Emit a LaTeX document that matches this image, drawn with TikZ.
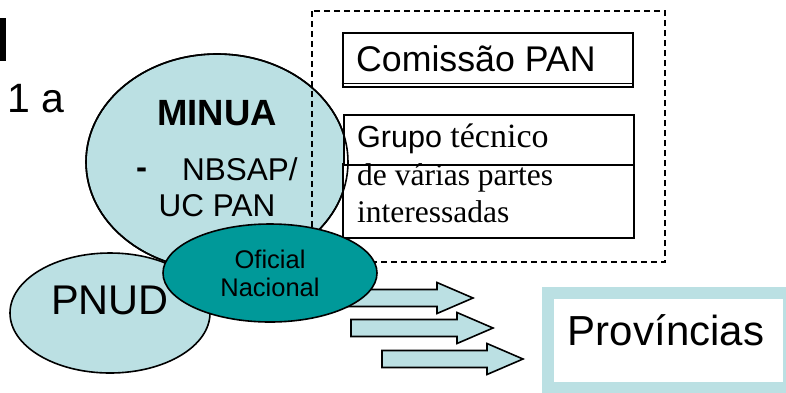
\documentclass[tikz,border=0pt]{standalone}
\usepackage{fontspec}
\setmainfont{Liberation Serif}
\setsansfont{Liberation Sans}
\usetikzlibrary{shapes.geometric}
\definecolor{lcy}{RGB}{187,224,227}
\definecolor{tea}{RGB}{0,153,153}
\tikzset{
    blob/.style={ellipse,draw=black,line width=1.6pt,inner sep=0pt},
    sans/.style={inner sep=0pt,font=\sffamily\fontsize{#1}{#1}\selectfont},
    serif/.style={inner sep=0pt,font=\rmfamily\fontsize{#1}{#1}\selectfont},
    boxa/.style={draw,line width=2.6pt,fill=white,inner sep=0pt},
    boxb/.style={draw,line width=1.6pt,fill=white,inner sep=0pt},
    barr/.style={draw,line width=1.6pt,fill=lcy,line join=miter}
}

\begin{document}
\begin{tikzpicture}[x=1pt,y=-1pt]
    \useasboundingbox (0,0) rectangle (786,392);
    \fill (0,18) rectangle (6,61);
    \node [sans=41,anchor=base west] (onea) at (7,112) {1 a};
    % MINUA and the frame
    \node [blob,fill=lcy,minimum width=262pt,minimum height=216pt] (minua) at (217,162) {};
    \draw [line width=1.3pt,dash pattern=on 6pt off 4pt] (312,11) rectangle (665,262);
    \node [boxa,minimum width=290pt,minimum height=54pt,anchor=north west] (comis) at (341.5,31.5) {};
    \draw [line width=1.2pt] (comis.south west) ++(0,-5) -- ++(290,0);
    \node [boxb,minimum width=291pt,minimum height=74pt,anchor=north west] (partes) at (342,163) {};
    \node [boxa,minimum width=290pt,minimum height=50pt,anchor=north west] (grupo) at (342.5,113.5) {};
    \draw [line width=1.6pt] (minua.center) ellipse (131pt and 108pt);
    \node [sans=35.7,anchor=base west] (comist) at (356,71) {Comissão PAN};
    \node [sans=30.5,anchor=base west] (grupot) at (357,147) {Grupo {\rmfamily\fontsize{34}{34}\selectfont técnico}};
    \node [serif=31.5,anchor=base west] (partest) at (357,185) {de várias partes};
    \node [serif=31.5,anchor=base west] (intert) at (357,222) {interessadas};
    \node [sans=36,font=\sffamily\bfseries\fontsize{36.5}{36.5}\selectfont] (minuat) at (217,113) {MINUA};
    \node [sans=33,font=\sffamily\bfseries\fontsize{33}{33}\selectfont,anchor=base] (hyph) at (141.5,178) {-};
    \node [sans=31.5,anchor=base west] (nbsap) at (182,180) {NBSAP/};
    \node [sans=31.5,anchor=base] (ucpan) at (217,216) {UC PAN};
    % PNUD
    \node [blob,fill=lcy,minimum width=200pt,minimum height=120pt] (pnud) at (110,313) {};
    \node [sans=41.5] (pnudt) at (110,300) {PNUD};
    % arrows
    \foreach \l/\c/\t in {330/298/473,351/328/493,382/359/523} {
        \draw [barr] (\l,\c-8.5) -- (\t-36,\c-8.5) -- (\t-36,\c-15.5) -- (\t,\c)
            -- (\t-36,\c+15.5) -- (\t-36,\c+8.5) -- (\l,\c+8.5) -- cycle;
    }
    \node [blob,fill=tea,minimum width=214pt,minimum height=98pt] (ofic) at (270,273) {};
    \node [sans=25.5,anchor=base] (ofict) at (270,268) {Oficial};
    \node [sans=25.5,anchor=base] (nact) at (270,296) {Nacional};
    % Provincias
    \node [draw=lcy,line width=12pt,fill=white,minimum width=241pt,minimum height=95pt,inner sep=0pt] (provb) at (668.5,340.5) {};
    \node [sans=42,anchor=base] (provt) at (666,345) {Províncias};
\end{tikzpicture}
\end{document}
